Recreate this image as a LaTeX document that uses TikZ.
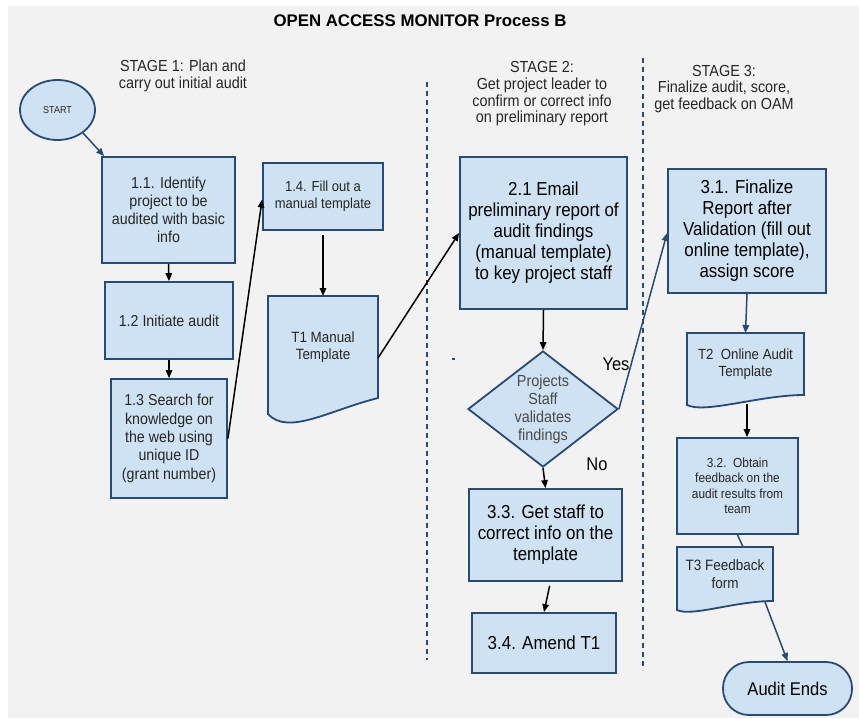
\documentclass[tikz,border=0pt]{standalone}
\usepackage{fontspec}
\setmainfont{Liberation Sans}[FakeStretch=0.9]
\newfontfamily\titlefont{Liberation Sans}
\usetikzlibrary{arrows.meta,shapes.geometric,calc}
\pgfdeclarelayer{background}
\pgfsetlayers{background,main}

\definecolor{bgc}{HTML}{F2F2F2}
\definecolor{fillc}{HTML}{CFE2F3}
\definecolor{bord}{HTML}{284B73}
\definecolor{txt}{HTML}{262626}
\definecolor{softtxt}{HTML}{4A4A4A}

\newcommand\fsz[2]{\fontsize{#1}{#2}\selectfont}

% document symbol: straight top and sides, wavy bottom edge
\newcommand\docwave[4]{%
  \begin{pgfonlayer}{background}
    \draw[docline] (#1.north west) -- (#1.north east) -- (#1.south east)
      .. controls ($(#1.south east)+#2$) and ($(#1.south west)+#3$)
      .. ($(#1.south west)+(0,#4)$) -- cycle;
  \end{pgfonlayer}}

\tikzset{
  proc/.style={draw=bord, fill=fillc, line width=1.8pt, align=center,
    inner sep=0pt, text=txt},
  docnode/.style={inner sep=0pt, outer sep=0pt, align=center, text=txt},
  docline/.style={draw=bord, fill=fillc, line width=1.8pt, line join=miter},
  arr/.style={-{Triangle[length=8pt,width=6.5pt]}, line width=1.5pt, draw=black},
  barr/.style={arr, draw=bord},
  lane/.style={draw=bord, line width=1.4pt, dash pattern=on 5pt off 4pt},
  stage/.style={align=center, text=txt, inner sep=0pt},
  lbl/.style={inner sep=0pt, text=black, font=\fsz{18.3}{20}},
}

\begin{document}
\begin{tikzpicture}[x=1pt,y=-1pt]
\useasboundingbox (0,0) rectangle (859,718);
\begin{pgfonlayer}{background}
  \fill[white] (0,0) rectangle (859,718);
  \fill[bgc] (8,6) rectangle (859,718);
\end{pgfonlayer}

% title and stage headings
\node[font=\titlefont\bfseries\fsz{16.8}{20}, inner sep=0pt] (title) at (420,21)
  {OPEN ACCESS MONITOR Process B};
\node[stage, font=\fsz{16}{16.3}] (s1) at (183,76)
  {STAGE 1: Plan and\\carry out initial audit};
\node[stage, font=\fsz{16}{16.7}] (s2) at (542,94)
  {STAGE 2:\\Get project leader to\\confirm or correct info\\on preliminary report};
\node[stage, font=\fsz{16}{16.3}] (s3) at (724,89)
  {STAGE 3:\\Finalize audit, score,\\get feedback on OAM};

% swimlane separators
\draw[lane] (427,82) -- (427,660);
\draw[lane] (643,58) -- (643,670);
\draw[bord, line width=1.2pt] (451.5,359) -- (454.5,359);

% stage 1
\node[ellipse, draw=bord, fill=fillc, line width=1.8pt, inner sep=0pt,
  minimum width=75pt, minimum height=60pt, text=txt, font=\fsz{10}{12}]
  (start) at (57.5,110) {START};
\node[proc, minimum width=133pt, minimum height=106pt, font=\fsz{15.8}{18}]
  (n11) at (168.5,210) {1.1. Identify\\project to be\\audited with basic\\info};
\node[proc, minimum width=128pt, minimum height=77pt, font=\fsz{15.8}{18}]
  (n12) at (169,320.5) {1.2 Initiate audit};
\node[proc, minimum width=116pt, minimum height=119pt, font=\fsz{15.8}{18.3}]
  (n13) at (169,438.5) {1.3 Search for\\knowledge on\\the web using\\unique ID\\(grant number)};
\node[proc, minimum width=120pt, minimum height=67pt, font=\fsz{14.5}{17}]
  (n14) at (323,196.5) {1.4. Fill out a\\manual template};
\node[docnode, minimum width=110pt, minimum height=102pt, font=\fsz{14.9}{17}]
  (t1) at (323,347) {T1 Manual\\Template};
\docwave{t1}{(-48,12)}{(20,38)}{16}

% stage 2
\node[proc, minimum width=167pt, minimum height=152pt, text=black, font=\fsz{18.8}{21}]
  (n21) at (543.5,233) {2.1 Email\\preliminary report of\\audit findings\\(manual template)\\to key project staff};
\node[diamond, draw=bord, fill=fillc, line width=1.8pt, inner sep=0pt,
  minimum width=150pt, minimum height=116pt,
  label={[align=center, text=softtxt, font=\fsz{16}{18}]center:Projects\\Staff\\validates\\findings}]
  (dia) at (543,409) {};
\node[proc, minimum width=153pt, minimum height=92pt, text=black, font=\fsz{18.8}{21}]
  (n33) at (545.5,535) {3.3. Get staff to\\correct info on the\\template};
\node[proc, minimum width=144pt, minimum height=60pt, text=black, font=\fsz{18.8}{21}]
  (n34) at (544,643) {3.4. Amend T1};
\node[lbl] (yes) at (616,364) {Yes};
\node[lbl] (no) at (597,464) {No};

% stage 3
\node[proc, minimum width=158pt, minimum height=124pt, text=black, font=\fsz{18.8}{21}]
  (n31) at (747,231) {3.1. Finalize\\Report after\\Validation (fill out\\online template),\\assign score};
\node[docnode, minimum width=117pt, minimum height=62pt, font=\fsz{14.7}{17}]
  (t2) at (745.5,364) {T2~~Online Audit\\Template};
\docwave{t2}{(-44,0)}{(18,19)}{10}
\node[proc, minimum width=121pt, minimum height=96pt, font=\fsz{13.2}{15.5}]
  (n32) at (737.5,486) {3.2.~~Obtain\\feedback on the\\audit results from\\team};
\node[docnode, minimum width=96pt, minimum height=54pt, font=\fsz{15}{18}]
  (t3) at (725,574) {T3 Feedback\\form};
\docwave{t3}{(-38,0)}{(15,16)}{9}
\node[draw=bord, fill=fillc, line width=1.8pt, rounded corners=26pt, inner sep=0pt,
  minimum width=129pt, minimum height=53pt, text=black, font=\fsz{18.4}{20}]
  (endn) at (787.5,688.5) {Audit Ends};

% connectors
\draw[barr] (start.-42) -- ([xshift=3pt]n11.north west);
\draw[arr] (n11.south) -- (n12.north);
\draw[arr] (n12.south) -- (n13.north);
\draw[arr] (n13.east) -- ([yshift=-3pt]n14.west);
\draw[arr, shorten <=4pt] (n14.south) -- (t1.north);
\draw[arr] ([yshift=-11pt]t1.east) -- (n21.west);
\draw[arr] (n21.south) -- (dia.north);
\draw[barr] (dia.east) -- ([yshift=-2pt]n31.west);
\draw[arr] (dia.south) -- (n33.north);
\draw[arr, shorten <=4pt] ([xshift=5pt]n33.south) -- (n34.north);
\draw[barr] (n31.south) -- (t2.north);
\draw[arr] ([xshift=1.5pt,yshift=-9pt]t2.south) -- ([xshift=9.5pt]n32.north);
\draw[draw=bord, line width=1.5pt] (n32.south) -- ([xshift=18pt]t3.north);
\draw[barr] ([xshift=-8pt,yshift=-1pt]t3.south east) -- (endn.north);
\end{tikzpicture}
\end{document}
